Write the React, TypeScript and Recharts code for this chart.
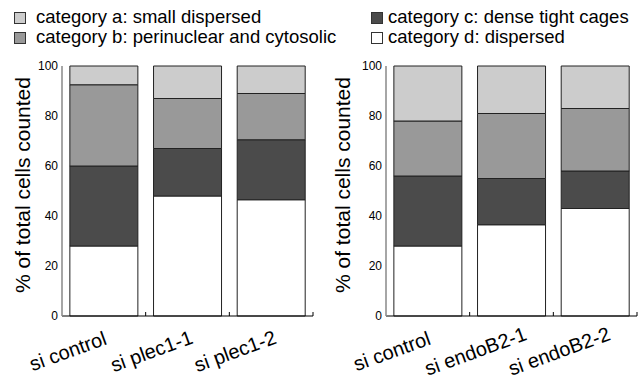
import React from 'react';
import { BarChart, Bar, XAxis, YAxis } from 'recharts';

const leftCategories = ['si control', 'si plec1-1', 'si plec1-2'];
const leftD = [28, 48, 46.5];
const leftC = [32, 19, 24];
const leftB = [32.5, 20, 18.5];
const leftA = [7.5, 13, 11];

const rightCategories = ['si control', 'si endoB2-1', 'si endoB2-2'];
const rightD = [28, 36.5, 43];
const rightC = [28, 18.5, 15];
const rightB = [22, 26, 25];
const rightA = [22, 19, 17];

const yTicks = [0, 20, 40, 60, 80, 100];

const legendLabels = [
  'category a: small dispersed',
  'category b: perinuclear and cytosolic',
  'category c: dense tight cages',
  'category d: dispersed',
];
const yLabel = '% of total cells counted';

const COLORS = { a: '#cccccc', b: '#999999', c: '#4b4b4b', d: '#ffffff' };
const FONT = '"Liberation Sans", Arial, Helvetica, sans-serif';

const buildData = (cats: string[], a: number[], b: number[], c: number[], d: number[]) =>
  cats.map((name, i) => ({ name, a: a[i], b: b[i], c: c[i], d: d[i] }));

const leftData = buildData(leftCategories, leftA, leftB, leftC, leftD);
const rightData = buildData(rightCategories, rightA, rightB, rightC, rightD);

const XTick = (props: any) => {
  const { x, y, payload, width } = props;
  const band = (width || 251) / 3;
  const ax = x - 36;
  const ay = y + 35;
  return (
    <g>
      <line x1={x + band / 2} x2={x + band / 2} y1={y} y2={y - 4} stroke="#000" strokeWidth={1} />
      <text
        x={ax}
        y={ay}
        textAnchor="middle"
        dominantBaseline="central"
        fontSize={20}
        fontFamily={FONT}
        fill="#000"
        transform={`rotate(-20, ${ax}, ${ay})`}
      >
        {payload.value}
      </text>
    </g>
  );
};

const YLabel = (props: any) => {
  const vb = props.viewBox || { x: 0, y: 66, width: 62, height: 250 };
  const cx = vb.x + 22;
  const cy = vb.y + vb.height / 2 - 6;
  return (
    <text
      x={cx}
      y={cy}
      textAnchor="middle"
      dominantBaseline="central"
      fontSize={21}
      fontFamily={FONT}
      fill="#000"
      transform={`rotate(-90, ${cx}, ${cy})`}
    >
      {yLabel}
    </text>
  );
};

const Panel = ({ data, width, yWidth, right }: any) => (
  <BarChart
    width={width}
    height={379}
    data={data}
    margin={{ top: 66, right, bottom: 13, left: 0 }}
    barCategoryGap="9.4%"
  >
    <XAxis
      dataKey="name"
      interval={0}
      height={50}
      tickLine={false}
      tickSize={0}
      tickMargin={0}
      axisLine={{ stroke: '#000', strokeWidth: 1 }}
      tick={<XTick />}
    />
    <YAxis
      width={yWidth}
      domain={[0, 100]}
      ticks={yTicks}
      tickLine={false}
      tickSize={0}
      tickMargin={4}
      axisLine={{ stroke: '#888', strokeWidth: 1.5 }}
      tick={{ fontSize: 12, fill: '#000', fontFamily: FONT }}
      label={{ content: <YLabel /> }}
    />
    <Bar dataKey="d" stackId="s" fill={COLORS.d} stroke="#222" strokeWidth={1} isAnimationActive={false} />
    <Bar dataKey="c" stackId="s" fill={COLORS.c} stroke="#222" strokeWidth={1} isAnimationActive={false} />
    <Bar dataKey="b" stackId="s" fill={COLORS.b} stroke="#222" strokeWidth={1} isAnimationActive={false} />
    <Bar dataKey="a" stackId="s" fill={COLORS.a} stroke="#222" strokeWidth={1} isAnimationActive={false} />
  </BarChart>
);

const legendItems = [
  { key: 'a', label: legendLabels[0], bx: 14, tx: 36, row: 0 },
  { key: 'b', label: legendLabels[1], bx: 14, tx: 36, row: 1 },
  { key: 'c', label: legendLabels[2], bx: 371, tx: 388, row: 0 },
  { key: 'd', label: legendLabels[3], bx: 371, tx: 388, row: 1 },
];

export default function App() {
  return (
    <div style={{ position: 'absolute', left: 0, top: 0, width: 639, height: 379, background: '#fff', overflow: 'hidden' }}>
      <svg width={639} height={56} style={{ position: 'absolute', left: 0, top: 0 }}>
        {legendItems.map((it) => (
          <g key={it.key}>
            <rect
              x={it.bx + 0.5}
              y={12.5 + it.row * 20}
              width={11}
              height={11}
              fill={(COLORS as any)[it.key]}
              stroke="#333"
              strokeWidth={1}
            />
            <text x={it.tx} y={23 + it.row * 20} fontSize={18.5} fontFamily={FONT} fill="#000">
              {it.label}
            </text>
          </g>
        ))}
      </svg>
      <div style={{ position: 'absolute', left: 0, top: 0 }}>
        <Panel data={leftData} width={320} yWidth={62} right={7} />
      </div>
      <div style={{ position: 'absolute', left: 320, top: 0 }}>
        <Panel data={rightData} width={319} yWidth={66} right={2} />
      </div>
    </div>
  );
}
